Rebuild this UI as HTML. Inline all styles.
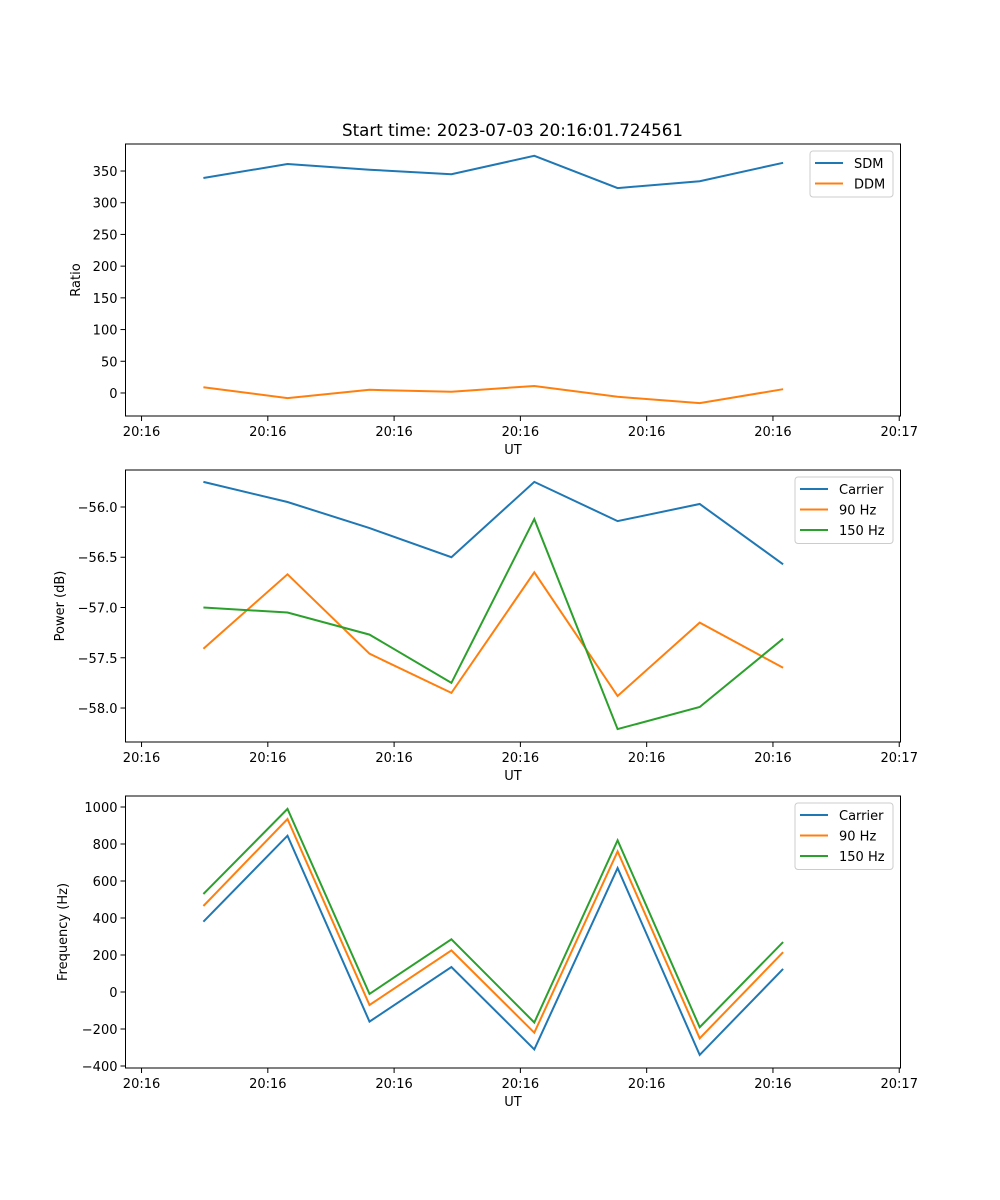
<!DOCTYPE html>
<html><head><meta charset="utf-8"><style>
html,body{margin:0;padding:0;background:#fff;}
svg{display:block;font-family:"DejaVu Sans","Liberation Sans",sans-serif;}
</style></head><body>
<svg id="fig" width="1000" height="1200" viewBox="0 0 1000 1200" xmlns="http://www.w3.org/2000/svg">
<rect width="1000" height="1200" fill="#fff"/>
<text x="512.5" y="136" font-size="16.7" text-anchor="middle">Start time: 2023-07-03 20:16:01.724561</text>
</svg>
<script>
// shared x data (seconds after 20:16:00)
const timeSec = [4.9, 11.56, 18.05, 24.54, 31.1, 37.7, 44.2, 50.8];
const xTickVals = [0, 10, 20, 30, 40, 50, 60];
const xTickLabels = ["20:16","20:16","20:16","20:16","20:16","20:16","20:17"];
// panel 1
const sdm = [339, 361, 352, 345, 374, 323, 334, 363];
const ddm = [9, -8, 5, 2, 11, -6, -16, 6];
const ratioTicks = [0, 50, 100, 150, 200, 250, 300, 350];
// panel 2
const powCarrier = [-55.75, -55.95, -56.21, -56.50, -55.75, -56.14, -55.97, -56.57];
const pow90 = [-57.41, -56.67, -57.46, -57.85, -56.65, -57.88, -57.15, -57.60];
const pow150 = [-57.00, -57.05, -57.27, -57.75, -56.12, -58.21, -57.99, -57.31];
const powTicks = [-58.0, -57.5, -57.0, -56.5, -56.0];
// panel 3
const freqCarrier = [380, 845, -160, 135, -310, 670, -340, 125];
const freq90 = [465, 935, -70, 225, -220, 760, -250, 215];
const freq150 = [530, 990, -10, 285, -165, 820, -190, 270];
const freqTicks = [-400, -200, 0, 200, 400, 600, 800, 1000];

const NS = "http://www.w3.org/2000/svg";
const svg = document.getElementById('fig');
const L = 125.5, R = 900.5;
const xMin = -1.27, xMax = 60.1;
function xs(v){ return L + (v - xMin) / (xMax - xMin) * (R - L); }
function mk(tag, attrs, parent){ const e = document.createElementNS(NS, tag); for (const k in attrs) e.setAttribute(k, attrs[k]); (parent||svg).appendChild(e); return e; }
const C = ["#1f77b4", "#ff7f0e", "#2ca02c"];

function panel(name, top, bottom, yMin, yMax, yTicks, fmt, ylabel, series, names, legend){
  const g = mk('g', {});
  
  
  const ys = v => bottom - (v - yMin) / (yMax - yMin) * (bottom - top);
  series.forEach((s, i) => {
    const p = mk('polyline', {points: s.map((v, j) => xs(timeSec[j]).toFixed(1) + ',' + ys(v).toFixed(1)).join(' '), fill: 'none', stroke: C[i], 'stroke-width': 2}, g);
    
    
  });
  const f = mk('rect', {x: L, y: top, width: R - L, height: bottom - top, fill: 'none', stroke: '#000', 'stroke-width': 1}, g);
  
  
  xTickVals.forEach((v, i) => {
    const x = xs(v);
    mk('line', {x1: x, y1: bottom, x2: x, y2: bottom + 5, stroke: '#000', 'stroke-width': 1}, g);
    const t = mk('text', {x: x, y: bottom + 20, 'font-size': 13, 'text-anchor': 'middle'}, g);
    t.textContent = xTickLabels[i];
    
    
  });
  const xl = mk('text', {x: (L + R) / 2, y: bottom + 38, 'font-size': 13, 'text-anchor': 'middle'}, g);
  xl.textContent = 'UT';
  
  
  yTicks.forEach(v => {
    const y = ys(v);
    mk('line', {x1: L - 5, y1: y, x2: L, y2: y, stroke: '#000', 'stroke-width': 1}, g);
    const t = mk('text', {x: L - 8, y: y + 5, 'font-size': 13, 'text-anchor': 'end'}, g);
    t.textContent = fmt(v);
    
    
  });
  const yl = mk('text', {x: 0, y: 0, 'font-size': 13, 'text-anchor': 'middle', transform: 'translate(' + legend.yl + ',' + ((top + bottom) / 2) + ') rotate(-90)'}, g);
  yl.textContent = ylabel;
  
  
  const lg = mk('g', {}, g);
  
  
  mk('rect', {x: legend.x, y: top + 7, width: legend.w, height: names.length * 20.5 + 5, rx: 3, fill: '#fff', 'fill-opacity': 0.8, stroke: '#ccc', 'stroke-width': 1}, lg);
  names.forEach((n, i) => {
    const y = top + 19 + i * 20.5;
    mk('line', {x1: legend.x + 5, y1: y, x2: legend.x + 33, y2: y, stroke: C[i], 'stroke-width': 2}, lg);
    const t = mk('text', {x: legend.x + 44, y: y + 5, 'font-size': 13}, lg);
    t.textContent = n;
    
    
  });
}
const minus = s => s.replace('-', '\u2212');
panel('ratio-panel', 144, 416, -36.3, 392.6, ratioTicks, v => minus(String(v)), 'Ratio', [sdm, ddm], ['SDM', 'DDM'], {x: 810, w: 83, yl: 80});
panel('power-panel', 470, 742, -58.338, -55.632, powTicks, v => minus(v.toFixed(1)), 'Power (dB)', [powCarrier, pow90, pow150], ['Carrier', '90 Hz', '150 Hz'], {x: 795, w: 98, yl: 64});
panel('frequency-panel', 796, 1068, -410.8, 1059.5, freqTicks, v => minus(String(v)), 'Frequency (Hz)', [freqCarrier, freq90, freq150], ['Carrier', '90 Hz', '150 Hz'], {x: 795, w: 98, yl: 67});
</script>
</body></html>
